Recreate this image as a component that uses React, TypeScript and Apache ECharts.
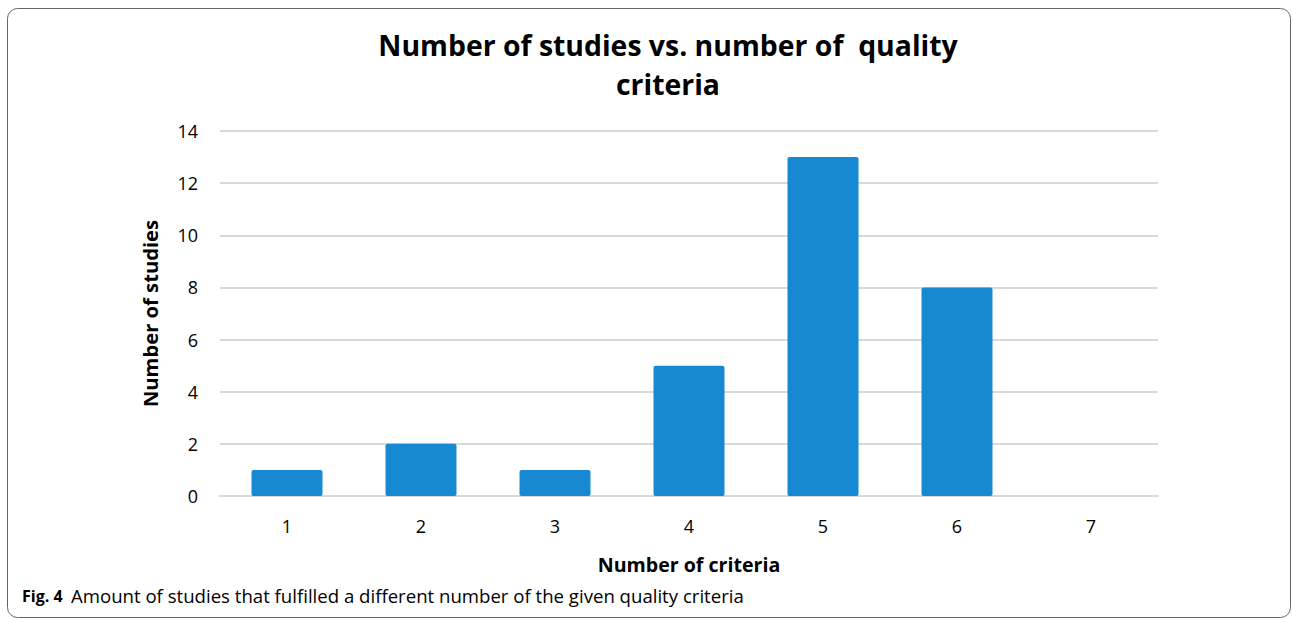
import React, { useEffect, useRef } from "react";
import * as echarts from "echarts";

const categories = ["1", "2", "3", "4", "5", "6", "7"];
const studies = [1, 2, 1, 5, 13, 8, 0];
const titleText = "Number of studies vs. number of  quality\ncriteria";
const xAxisName = "Number of criteria";
const yAxisName = "Number of studies";
const captionBold = "Fig. 4";
const captionText = "Amount of studies that fulfilled a different number of the given quality criteria";

export default function App() {
  const ref = useRef<HTMLDivElement>(null);
  useEffect(() => {
    if (!ref.current) return;
    const chart = echarts.init(ref.current, undefined, { renderer: "svg" });
    const font = "'Open Sans', 'Noto Sans', sans-serif";
    chart.setOption({
      animation: false,
      backgroundColor: "#ffffff",
      textStyle: { fontFamily: font },
      title: {
        text: titleText,
        left: 663,
        top: 20,
        textAlign: "center",
        textStyle: { fontSize: 28.4, fontWeight: "bold", color: "#000", lineHeight: 39, fontFamily: font },
      },
      grid: { left: 220, right: 134, top: 131, bottom: 122 },
      xAxis: {
        type: "category",
        data: categories,
        name: xAxisName,
        nameLocation: "middle",
        nameGap: 58,
        nameTextStyle: { fontSize: 19.6, fontWeight: "bold", color: "#000" },
        axisLine: { lineStyle: { color: "#d9d9d9", width: 2 } },
        axisTick: { show: false },
        axisLabel: { fontSize: 18, color: "#000", margin: 21 },
      },
      yAxis: {
        type: "value",
        min: 0,
        max: 14,
        interval: 2,
        name: yAxisName,
        nameLocation: "middle",
        nameGap: 60,
        nameTextStyle: { fontSize: 20.2, fontWeight: "bold", color: "#000" },
        splitLine: { lineStyle: { color: "#d9d9d9", width: 2 } },
        axisLine: { show: false },
        axisTick: { show: false },
        axisLabel: { fontSize: 18, color: "#000", margin: 22 },
      },
      series: [
        {
          type: "bar",
          data: studies,
          barWidth: 71,
          itemStyle: { color: "#1789d3", borderRadius: 2 },
        },
      ],
      graphic: [
        {
          type: "rect",
          shape: { x: 7.5, y: 8.5, width: 1283, height: 609, r: 10 },
          style: { fill: "none", stroke: "#666", lineWidth: 1 },
          silent: true,
        },
        {
          type: "text",
          left: 22,
          top: 588,
          style: { text: captionBold, font: "bold 16px " + font, fill: "#000" },
        },
        {
          type: "text",
          left: 71,
          top: 586,
          style: { text: captionText, font: "18.6px " + font, fill: "#000" },
        },
      ],
    });
    return () => chart.dispose();
  }, []);
  return (
    <div
      ref={ref}
      style={{ position: "absolute", left: 0, top: 0, width: 1292, height: 618 }}
    />
  );
}
